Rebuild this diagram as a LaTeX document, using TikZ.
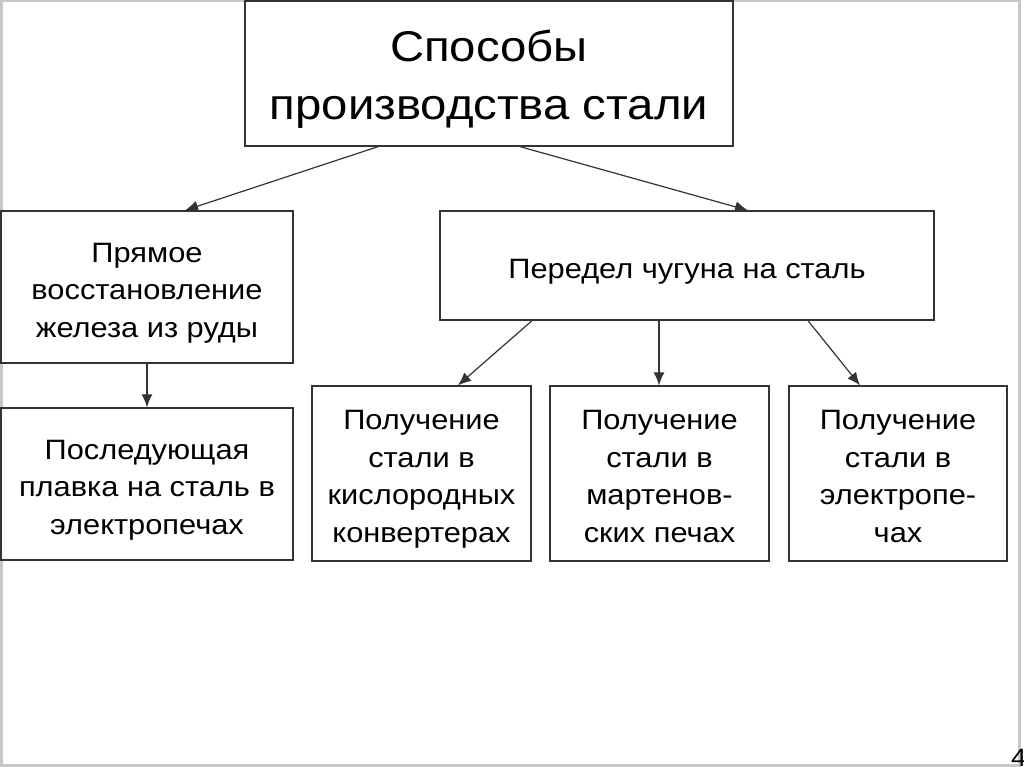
\documentclass[tikz,border=0pt]{standalone}
\usepackage{fontspec}
\setmainfont[FakeStretch=1.1]{Liberation Sans}
\usetikzlibrary{arrows.meta}

\tikzset{
  box/.style={draw=black!80, line width=1.3pt, fill=white, inner sep=0pt},
  boxtext/.style={align=center, inner sep=0pt, yshift=-6pt,
    font=\fontsize{28}{37.5}\selectfont},
  link/.style={draw=black!80, line width=1.2pt, -{Latex[length=13pt,width=11pt]}}
}

\begin{document}
\begin{tikzpicture}[x=1pt, y=-1pt]
  \useasboundingbox (0,0) rectangle (1024,767);
  % slide frame
  \draw[black!22, line width=3pt] (1,1) rectangle (1019,765);
  \node[font=\fontsize{25}{25}\selectfont, anchor=north west, inner sep=0pt] (page) at (1011,749) {4};

  % boxes
  \node[box, minimum width=488pt, minimum height=145pt] (top) at (489,73.5) {};
  \node[box, minimum width=292pt, minimum height=152pt] (pryam) at (147,287) {};
  \node[box, minimum width=292pt, minimum height=152pt] (posl) at (147,484) {};
  \node[box, minimum width=494pt, minimum height=109pt] (peredel) at (687,265.5) {};
  \node[box, minimum width=219pt, minimum height=175pt] (kisl) at (421.5,473.5) {};
  \node[box, minimum width=219pt, minimum height=175pt] (mart) at (659.5,473.5) {};
  \node[box, minimum width=218pt, minimum height=175pt] (elek) at (898,473.5) {};

  % texts
  \node[boxtext, font=\fontsize{43}{58}\selectfont] (top-t) at (top.center)
    {Способы\\производства стали};
  \node[boxtext] (pryam-t) at (pryam.center)
    {Прямое\\восстановление\\железа из руды};
  \node[boxtext] (posl-t) at (posl.center)
    {Последующая\\плавка на сталь в\\электропечах};
  \node[boxtext] (peredel-t) at (peredel.center) {Передел чугуна на сталь};
  \node[boxtext] (kisl-t) at (kisl.center)
    {Получение\\стали в\\кислородных\\конвертерах};
  \node[boxtext, yshift=3pt] (mart-t) at (mart.center)
    {Получение\\стали в\\мартенов-\\ских печах};
  \node[boxtext, yshift=3pt] (elek-t) at (elek.center)
    {Получение\\стали в\\электропе-\\чах};

  \draw[link] ([xshift=-111pt]top.south) -- ([xshift=38pt]pryam.north);
  \draw[link] ([xshift=31pt]top.south) -- ([xshift=61pt]peredel.north);
  \draw[link] (pryam.south) -- (posl.north);
  \draw[link] ([xshift=-155pt]peredel.south) -- ([xshift=36.5pt]kisl.north);
  \draw[link] ([xshift=-28pt]peredel.south) -- ([xshift=-28pt]peredel.south |- mart.north);
  \draw[link] ([xshift=121pt]peredel.south) -- ([xshift=-38pt]elek.north);
\end{tikzpicture}
\end{document}
